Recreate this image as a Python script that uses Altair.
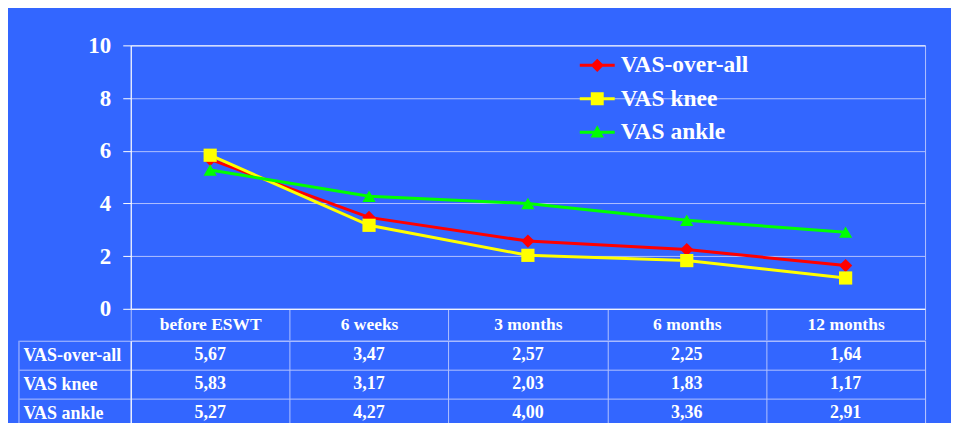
import altair as alt
import pandas as pd

categories = ["before ESWT", "6 weeks", "3 months", "6 months", "12 months"]
series = ["VAS-over-all", "VAS knee", "VAS ankle"]
vas_overall = [5.67, 3.47, 2.57, 2.25, 1.64]
vas_knee = [5.83, 3.17, 2.03, 1.83, 1.17]
vas_ankle = [5.27, 4.27, 4.00, 3.36, 2.91]
colors = ["#ff0000", "#ffff00", "#00ff00"]
shapes = ["diamond", "square", "triangle-up"]
y_ticks = [0, 2, 4, 6, 8, 10]

rows = []
for s, vals in zip(series, [vas_overall, vas_knee, vas_ankle]):
    for c, v in zip(categories, vals):
        rows.append({"series": s, "cat": c, "value": v,
                     "label": f"{v:.2f}".replace(".", ",")})
df = pd.DataFrame(rows)

FONT = "Liberation Serif"
BG = "#3366ff"
LIGHT = "#b3c2ff"

# legend symbols: line segment + marker
LINE = "M-1,-0.086H1V0.086H-1Z"
MARK = {
    "VAS-over-all": "M0,-0.38L0.38,0L0,0.38L-0.38,0Z",
    "VAS knee": "M-0.37,-0.37H0.37V0.37H-0.37Z",
    "VAS ankle": "M0,-0.4L0.38,0.3H-0.38Z",
}
shape_expr = (
    f"datum.value === '{series[0]}' ? '{LINE} {MARK[series[0]]}' : "
    f"datum.value === '{series[1]}' ? '{LINE} {MARK[series[1]]}' : '{LINE} {MARK[series[2]]}'"
)
fill_expr = (
    f"datum.value === '{series[0]}' ? '{colors[0]}' : "
    f"datum.value === '{series[1]}' ? '{colors[1]}' : '{colors[2]}'"
)

legend = alt.Legend(
    title=None, orient="none", legendX=450, legendY=2.5,
    symbolSize=1225, symbolStrokeWidth=0,
    symbolType=alt.ExprRef(shape_expr),
    symbolFillColor=alt.ExprRef(fill_expr),
    symbolOpacity=1,
    labelFont=FONT, labelFontSize=23.5, labelFontWeight="bold", labelColor="white",
    labelOffset=6, rowPadding=4.5, padding=0, labelLimit=300,
)

color = alt.Color("series:N", sort=series,
                  scale=alt.Scale(domain=series, range=colors), legend=legend)

x_line = alt.X(
    "cat:N", sort=categories, bandPosition=0.5,
    scale=alt.Scale(type="band", paddingInner=0, paddingOuter=0),
    axis=alt.Axis(
        title=None, labelFont=FONT, labelFontSize=17.5, labelFontWeight="bold",
        labelColor="white", labelAngle=0, labelBaseline="middle", labelPadding=-15,
        tickBand="extent", tickSize=31, tickColor=LIGHT, domainColor="white",
        grid=False, labelLimit=300, minExtent=31, maxExtent=31,
    ),
)
y_line = alt.Y(
    "value:Q", scale=alt.Scale(domain=[0, 10], nice=False),
    axis=alt.Axis(
        values=y_ticks, title=None, labelFont=FONT, labelFontSize=23,
        labelFontWeight="bold", labelColor="white", labelPadding=12,
        tickSize=8, tickColor="white", domainColor="white",
        gridColor={"condition": {"test": "datum.value === 10", "value": "#ffffff"}, "value": LIGHT},
        gridWidth=1, minExtent=112, maxExtent=112,
    ),
)

base = alt.Chart(df)
lines = base.mark_line(strokeWidth=3).encode(x=x_line, y=y_line, color=color)
point_layers = [
    base.transform_filter(alt.datum.series == s)
    .mark_point(filled=True, opacity=1, size=175, shape=shp)
    .encode(x=x_line, y=y_line, color=color)
    for s, shp in zip(series, shapes)
]
line_chart = alt.layer(lines, *point_layers).properties(width=796, height=264)

# table below the plot
table_text = alt.Chart(df).mark_text(
    font=FONT, fontSize=18, fontWeight="bold", color="white",
    align="center", baseline="middle",
).encode(
    x=alt.X("cat:N", sort=categories, bandPosition=0.5,
            scale=alt.Scale(type="band", paddingInner=0, paddingOuter=0),
            axis=alt.Axis(title=None, labels=False, ticks=False, domain=False,
                          grid=True, gridColor=LIGHT, tickBand="extent", orient="bottom")),
    y=alt.Y("series:N", sort=series,
            scale=alt.Scale(type="band", paddingInner=0, paddingOuter=0),
            axis=alt.Axis(title=None, labelAlign="left", labelPadding=-4,
                          labelFont=FONT, labelFontSize=18, labelFontWeight="bold",
                          labelColor="white", tickSize=112, tickColor=LIGHT,
                          tickBand="extent", grid=True, gridColor=LIGHT,
                          domainColor="white", minExtent=112, maxExtent=112,
                          labelLimit=300)),
    text="label:N",
)
left_rule = alt.Chart(pd.DataFrame({"v": [0]})).mark_rule(
    color=LIGHT, strokeWidth=1
).encode(x=alt.value(-112), y=alt.value(0), y2=alt.value(87))

table = alt.layer(table_text, left_rule).properties(width=796, height=87)

chart = alt.vconcat(line_chart, table, spacing=-10).properties(
    background=BG,
    padding={"left": 10, "top": 25, "right": 25, "bottom": 0},
).configure_view(stroke=LIGHT)

chart.save("out.html", embed_options={"renderer": "svg", "actions": False})
